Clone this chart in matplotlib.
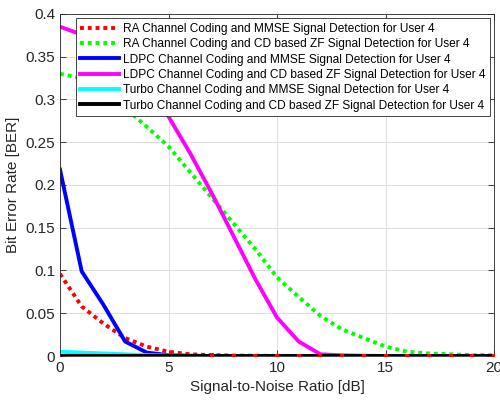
import matplotlib
matplotlib.use("Agg")
import matplotlib.pyplot as plt
import numpy as np

plt.rcParams['font.family'] = ['Liberation Sans', 'DejaVu Sans']

snr_db = np.arange(0, 21)

# BER curves for user 4
ra_mmse = [0.096, 0.058, 0.038, 0.021, 0.011, 0.005, 0.002, 0.001, 0.0005, 0.0003, 0.0002,
           0.0001, 0.0001, 0, 0, 0, 0, 0, 0, 0, 0]
ra_cdzf = [0.33, 0.325, 0.31, 0.29, 0.268, 0.245, 0.215, 0.185, 0.155, 0.125, 0.092,
           0.069, 0.047, 0.031, 0.021, 0.011, 0.005, 0.003, 0.002, 0.001, 0.001]
ldpc_mmse = [0.218, 0.099, 0.06, 0.017, 0.004, 0.001, 0.0003, 0, 0, 0, 0,
             0, 0, 0, 0, 0, 0, 0, 0, 0, 0]
ldpc_cdzf = [0.385, 0.376, 0.362, 0.342, 0.315, 0.28, 0.237, 0.19, 0.14, 0.09, 0.045,
             0.017, 0.002, 0.0008, 0.0003, 0.0001, 0, 0, 0, 0, 0]
turbo_mmse = [0.005, 0.004, 0.003, 0.002, 0.001, 0.0005, 0.0002, 0, 0, 0, 0,
              0, 0, 0, 0, 0, 0, 0, 0, 0, 0]
turbo_cdzf = [0] * 21

labels = [
    "RA Channel Coding and MMSE Signal Detection for User 4",
    "RA Channel Coding and CD based ZF Signal Detection for User 4",
    "LDPC Channel Coding and MMSE Signal Detection for User 4",
    "LDPC Channel Coding and CD based ZF Signal Detection for User 4",
    "Turbo Channel Coding and MMSE Signal Detection for User 4",
    "Turbo Channel Coding and CD based ZF Signal Detection for User 4",
]

fig = plt.figure(figsize=(5.0, 4.01), dpi=100)
ax = fig.add_axes([0.12, 0.1122, 0.868, 0.853])

lw = 2.8
dot = (0, (1, 1))
ax.plot(snr_db, ra_mmse, color=(1, 0, 0), lw=lw, ls=dot, label=labels[0])
ax.plot(snr_db, ra_cdzf, color=(0, 1, 0), lw=lw, ls=dot, label=labels[1])
ax.plot(snr_db, ldpc_mmse, color=(0, 0, 1), lw=lw, label=labels[2])
ax.plot(snr_db, ldpc_cdzf, color=(1, 0, 1), lw=lw, label=labels[3])
ax.plot(snr_db, turbo_mmse, color=(0, 1, 1), lw=lw, label=labels[4])
ax.plot(snr_db, turbo_cdzf, color=(0, 0, 0), lw=lw, label=labels[5])
# vertex dots of the dotted RA/MMSE curve show through the black line
ax.plot(snr_db[7:], ra_mmse[7:], ls="none", marker="s", ms=2.2, mew=0,
        color=(1, 0, 0), zorder=3)

ax.set_xlim(0, 20)
ax.set_ylim(0, 0.4)
ax.set_xticks([0, 5, 10, 15, 20])
ax.set_yticks(np.arange(0, 0.401, 0.05))
ax.set_yticklabels(["0", "0.05", "0.1", "0.15", "0.2", "0.25", "0.3", "0.35", "0.4"])

tc = "#262626"
ax.grid(True, color="#dfdfdf", lw=0.8)
ax.set_axisbelow(True)
ax.tick_params(direction="in", length=4, colors=tc, labelsize=11, labelcolor=tc,
               top=True, right=True, width=0.6)
for s in ax.spines.values():
    s.set_color(tc)
    s.set_linewidth(0.6)

ax.set_xlabel("Signal-to-Noise Ratio [dB]", fontsize=11, color=tc)
ax.set_ylabel("Bit Error Rate [BER]", fontsize=11, color=tc)

leg = ax.legend(loc="upper right", fontsize=8.6, handlelength=3.2, handletextpad=0.33,
                labelspacing=0.28, borderpad=0.4, borderaxespad=0.35, fancybox=False,
                framealpha=1, edgecolor=tc)
leg.get_frame().set_linewidth(0.6)

fig.savefig("out.png", dpi=100)
